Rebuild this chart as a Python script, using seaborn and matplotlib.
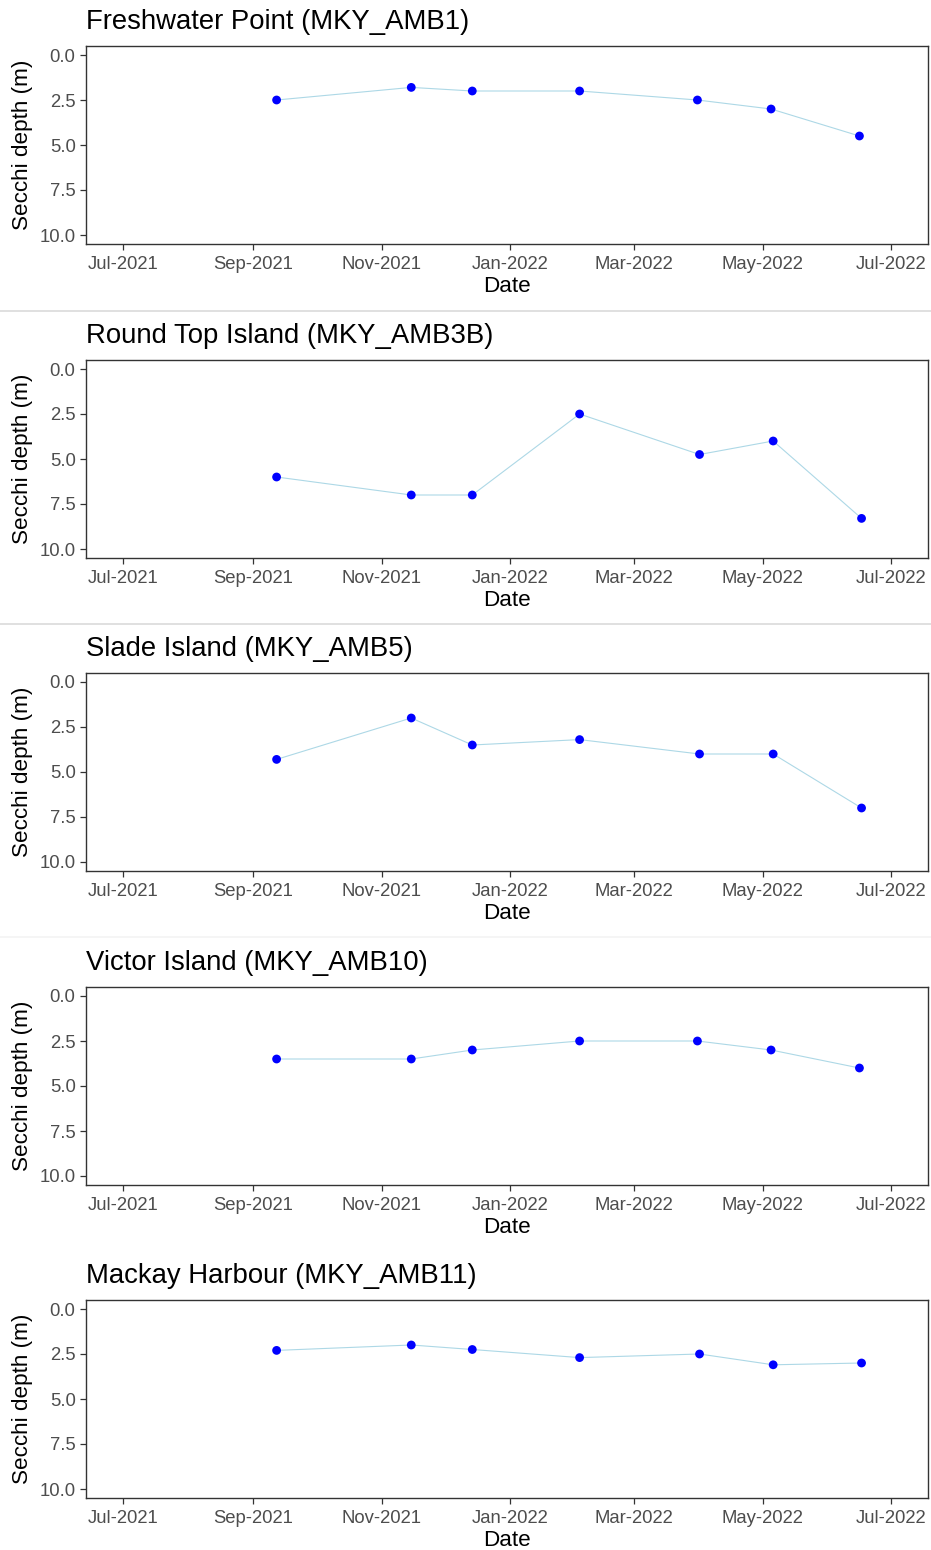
import matplotlib
matplotlib.use("Agg")
import matplotlib.pyplot as plt
import matplotlib.dates as mdates
from matplotlib.lines import Line2D
import pandas as pd
import seaborn as sns

# Sampling sites and their Secchi depth records (m)
sites = [
    "Freshwater Point (MKY_AMB1)",
    "Round Top Island (MKY_AMB3B)",
    "Slade Island (MKY_AMB5)",
    "Victor Island (MKY_AMB10)",
    "Mackay Harbour (MKY_AMB11)",
]

dates_a = ["2021-09-12", "2021-11-15", "2021-12-14", "2022-02-03",
           "2022-03-31", "2022-05-05", "2022-06-16"]
dates_b = ["2021-09-12", "2021-11-15", "2021-12-14", "2022-02-03",
           "2022-04-01", "2022-05-06", "2022-06-17"]

site_dates = [dates_a, dates_b, dates_b, dates_a, dates_b]

secchi_amb1 = [2.5, 1.8, 2.0, 2.0, 2.5, 3.0, 4.5]
secchi_amb3b = [6.0, 7.0, 7.0, 2.5, 4.75, 4.0, 8.3]
secchi_amb5 = [4.3, 2.0, 3.5, 3.2, 4.0, 4.0, 7.0]
secchi_amb10 = [3.5, 3.5, 3.0, 2.5, 2.5, 3.0, 4.0]
secchi_amb11 = [2.3, 2.0, 2.25, 2.7, 2.5, 3.1, 3.0]

site_values = [secchi_amb1, secchi_amb3b, secchi_amb5, secchi_amb10, secchi_amb11]

y_ticks = [0.0, 2.5, 5.0, 7.5, 10.0]

sns.set_theme(style="white")
plt.rcParams["font.family"] = ["Liberation Sans", "DejaVu Sans"]

W, H = 931, 1550
fig = plt.figure(figsize=(W / 100, H / 100), dpi=100)

ax_left, ax_width, ax_height = 86, 842, 198
ax_tops = [46, 360, 673, 987, 1300]

x_min = pd.Timestamp("2021-06-13 10:00")
x_max = pd.Timestamp("2022-07-18 14:00")

for site, dts, vals, top in zip(sites, site_dates, site_values, ax_tops):
    ax = fig.add_axes([ax_left / W, 1 - (top + ax_height) / H,
                       ax_width / W, ax_height / H])
    df = pd.DataFrame({"Date": pd.to_datetime(dts), "Secchi": vals})
    sns.lineplot(data=df, x="Date", y="Secchi", ax=ax, color="#ADD8E6",
                 linewidth=0.8, zorder=2)
    sns.scatterplot(data=df, x="Date", y="Secchi", ax=ax, color="#0000FF",
                    s=40, edgecolor="none", linewidth=0, zorder=3)

    ax.set_xlim(x_min, x_max)
    ax.set_ylim(10.5, -0.5)
    ax.set_yticks(y_ticks)
    ax.set_yticklabels([f"{v:.1f}" for v in y_ticks])
    ax.xaxis.set_major_locator(mdates.MonthLocator(bymonth=[1, 3, 5, 7, 9, 11]))
    ax.xaxis.set_major_formatter(mdates.DateFormatter("%b-%Y"))

    ax.tick_params(axis="both", which="major", length=4, width=0.9,
                   color="#333333", labelsize=13.3, labelcolor="#4D4D4D",
                   pad=3.5, bottom=True, left=True)
    ax.tick_params(axis="x", pad=4.5)
    for spine in ax.spines.values():
        spine.set_color("#333333")
        spine.set_linewidth(1.0)
    ax.grid(False)

    ax.set_xlabel("Date", fontsize=16.2, color="black", labelpad=2.5)
    ax.set_ylabel("Secchi depth (m)", fontsize=16.2, color="black", labelpad=5)
    ax.set_title(site, loc="left", fontsize=19.8, color="black", pad=12)

# thin separators between the stacked panels
for y_px, col in [(311, "#DADADA"), (624, "#DADADA"), (937, "#F4F4F4")]:
    fig.add_artist(Line2D([0, 1], [1 - y_px / H, 1 - y_px / H],
                          transform=fig.transFigure, color=col, linewidth=1.2))

fig.savefig("out.png", dpi=100, facecolor="white")
